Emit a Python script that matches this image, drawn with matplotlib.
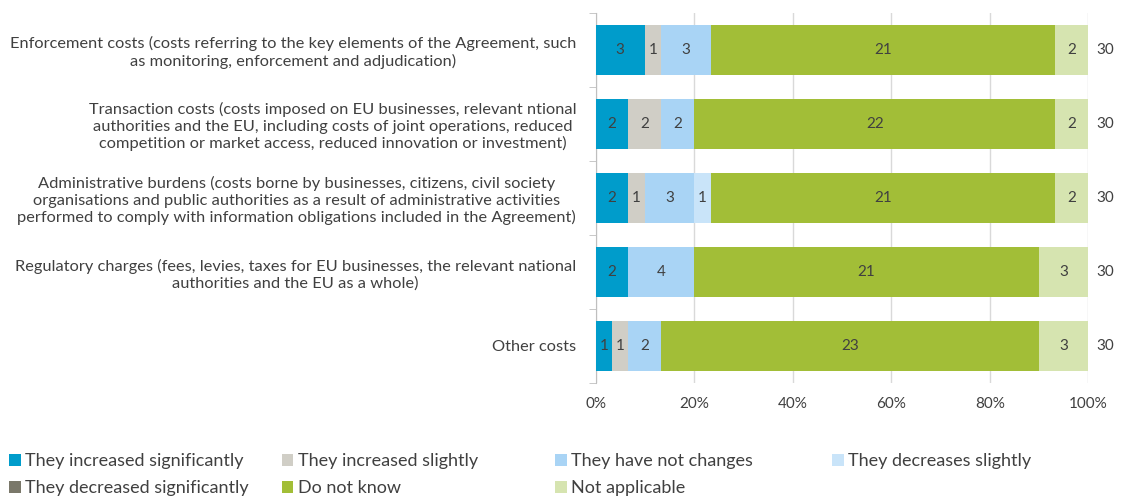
import matplotlib.pyplot as plt
import numpy as np

plt.rcParams['font.family'] = ['Lato', 'DejaVu Sans']

categories = [
    "Enforcement costs (costs referring to the key elements of the Agreement, such\nas monitoring, enforcement and adjudication)",
    "Transaction costs (costs imposed on EU businesses, relevant ntional\nauthorities and the EU, including costs of joint operations, reduced\ncompetition or market access, reduced innovation or investment)",
    "Administrative burdens (costs borne by businesses, citizens, civil society\norganisations and public authorities as a result of administrative activities\nperformed to comply with information obligations included in the Agreement)",
    "Regulatory charges (fees, levies, taxes for EU businesses, the relevant national\nauthorities and the EU as a whole)",
    "Other costs",
]
series = [
    "They increased significantly",
    "They increased slightly",
    "They have not changes",
    "They decreases slightly",
    "They decreased significantly",
    "Do not know",
    "Not applicable",
]
inc_sig = [3, 2, 2, 2, 1]
inc_slight = [1, 2, 1, 0, 1]
not_changed = [3, 2, 3, 4, 2]
dec_slight = [0, 0, 1, 0, 0]
dec_sig = [0, 0, 0, 0, 0]
dont_know = [21, 22, 21, 21, 23]
not_applicable = [2, 2, 2, 3, 3]
colors = ["#009ccb", "#d0cec6", "#a9d4f5", "#c9e4f9", "#7a786a", "#a2be37", "#d6e4b0"]

values = np.array([inc_sig, inc_slight, not_changed, dec_slight, dec_sig, dont_know, not_applicable], dtype=float)
totals = values.sum(axis=0)
shares = values / totals

fig = plt.figure(figsize=(11.26, 4.96), dpi=100)
ax = fig.add_axes([0.529, 0.228, 0.4375, 0.746])

y = np.arange(len(categories))
left = np.zeros(len(categories))
handles = []
for i, name in enumerate(series):
    h = ax.barh(y, shares[i], left=left, height=0.67, color=colors[i], label=name, zorder=3)
    handles.append(h)
    for j in range(len(categories)):
        if values[i, j] > 0:
            ax.text(left[j] + shares[i, j] / 2, y[j], f"{int(values[i, j])}",
                    ha="center", va="center", fontsize=11, color="#404040", zorder=4)
    left += shares[i]

for j in range(len(categories)):
    ax.text(1.035, y[j], f"{int(totals[j])}", ha="center", va="center", fontsize=11,
            color="#404040", transform=ax.get_yaxis_transform())

ax.set_xlim(0, 1)
ax.set_ylim(len(categories) - 0.5, -0.5)
ax.set_xticks(np.arange(0, 1.01, 0.2))
ax.set_xticklabels([f"{int(round(t * 100))}%" for t in np.arange(0, 1.01, 0.2)], fontsize=11, color="#404040")
ax.set_yticks(y)
ax.set_yticklabels(categories, fontsize=11.8, color="#404040", ha="right",
                   multialignment="center", linespacing=1.2)
ax.set_yticks(np.arange(-0.5, len(categories), 1), minor=True)
ax.tick_params(axis="y", which="major", length=0, pad=14)
ax.tick_params(axis="y", which="minor", length=5, color="#bfbfbf")
ax.tick_params(axis="x", length=0, pad=10)
ax.grid(axis="x", color="#d9d9d9", linewidth=1, zorder=0)
for s in ["top", "right", "bottom"]:
    ax.spines[s].set_visible(False)
ax.spines["left"].set_color("#bfbfbf")

# legend laid out row by row in four columns
col_x = [0.0, 0.242, 0.485, 0.731]
row_y = [0.070, 0.016]
for k, h in enumerate(handles):
    r, c = divmod(k, 4)
    fig.legend([h], [series[k]], loc="center left", bbox_to_anchor=(col_x[c], row_y[r]),
               frameon=False, fontsize=13, handlelength=0.65, handleheight=0.65,
               handletextpad=0.25, borderpad=0, labelcolor="#404040")

fig.savefig("out.png", dpi=100)
